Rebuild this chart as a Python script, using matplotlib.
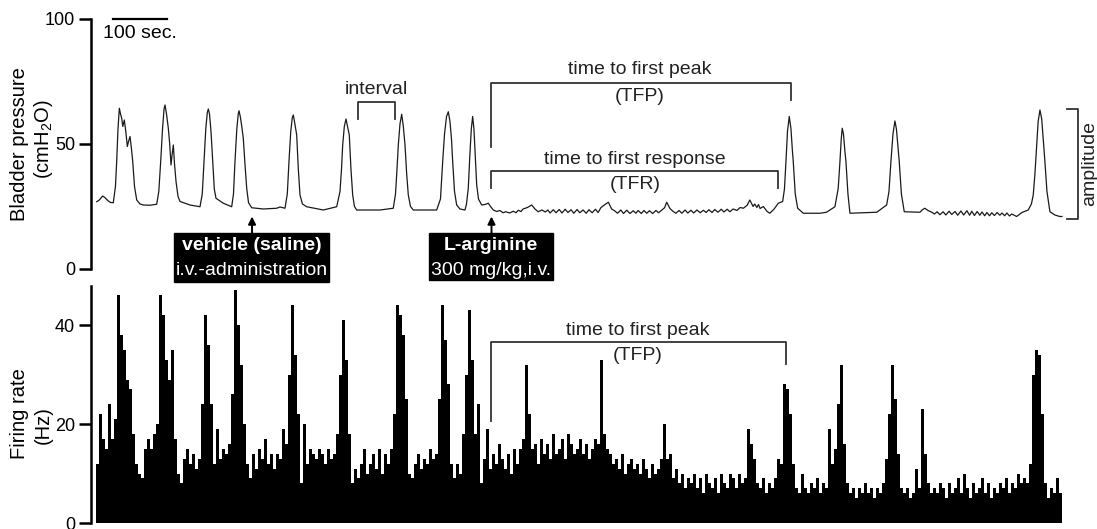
import numpy as np
import matplotlib
matplotlib.use("Agg")
import matplotlib.pyplot as plt
from matplotlib.patches import Rectangle

plt.rcParams['font.family'] = ['Liberation Sans', 'DejaVu Sans']
plt.rcParams['mathtext.fontset'] = 'custom'
plt.rcParams['mathtext.rm'] = 'Liberation Sans'

# bladder pressure trace: (time in s, pressure in cmH2O)
pressure_points = [
    (1.3, 26.9), (5.6, 27.5), (12.4, 29.2), (16.7, 28.5), (22.8, 27.2), (26.9, 26.6), (32, 26.5),
    (36, 33), (38.3, 43), (40.7, 56), (43.2, 64.3), (45.4, 62), (47.6, 60.3), (49.6, 57),
    (52.4, 59.6), (55.2, 55), (58, 49), (60.2, 51), (63, 53), (65.7, 48), (68, 43), (71.3, 33),
    (75.4, 27.6), (81.5, 26), (87.6, 25.6), (100, 25.5), (112.4, 25.9), (116.3, 31), (119.8, 43),
    (123.2, 56), (126, 64), (127.8, 65.6), (130.6, 62), (133.9, 56.3), (136.5, 50), (138.9, 41.6),
    (141.1, 46), (143.2, 49.6), (145.4, 42), (148.2, 35), (151.9, 29), (155.6, 27), (174.1, 25.6),
    (192.6, 24.9), (196.8, 30), (200, 43), (203.3, 56), (206.1, 62.5), (208, 64), (210.2, 62),
    (213, 55), (216.1, 43), (219.1, 32), (222.2, 28.3), (235.8, 26.3), (251.3, 24.9), (254.6, 30),
    (257.4, 43), (260.8, 56), (263.4, 62), (264.8, 63.3), (267.2, 61), (270, 57), (272.8, 52.3),
    (275.9, 42), (279.1, 32.3), (282.5, 26.5), (288.4, 24.5), (309.8, 24), (334.7, 24.3),
    (340.8, 24.8), (350, 24.3), (354.3, 30), (357.4, 43), (360.7, 55), (363.5, 60.5), (365.4, 61.6),
    (367.6, 59), (371.7, 53.6), (374.7, 40), (377.8, 29.6), (382.4, 26), (390.2, 24.9), (421, 23.6),
    (445.8, 24.9), (451.9, 31), (454.7, 40), (456.9, 49.6), (459.9, 57), (463, 60), (465.8, 57),
    (469.1, 53.6), (472.2, 40), (475.4, 29.6), (478.7, 25), (482.8, 23.6), (526, 23.6),
    (550.6, 24.3), (554.7, 30), (557.5, 40), (559.9, 49.6), (563, 58), (566.2, 61.9), (569.2, 57),
    (572.3, 49.6), (575.4, 38), (578.4, 29.6), (582.5, 25), (587.6, 23.6), (631, 23.6), (638, 28),
    (642.1, 43), (645.5, 54), (649.2, 61), (652.5, 62.9), (655.6, 59), (658.4, 52), (660.6, 43),
    (664, 31), (668, 25.6), (674.1, 24), (683.4, 23.6), (686.2, 26), (689.5, 32.3), (692.3, 45),
    (695.1, 56), (697.6, 61), (700, 56), (702.5, 45), (705.1, 33.6), (708.4, 28), (714.3, 25.6),
    (720.4, 25.8), (726.5, 26.3), (731.5, 24.8), (735.8, 23.6),
    (742, 23.0), (748, 23.4), (754, 22.5), (759, 22.9), (766, 22.4), (773, 23.1), (778, 22.5),
    (782, 23.5), (787, 23.0), (791, 24), (799, 24.6), (807, 25.6), (813, 24.0), (819, 22.9),
    (826, 23.6), (832, 22.8), (837, 23.6), (841, 22.4), (847, 23.7), (852, 22.5), (858, 23.8),
    (863, 22.4), (869, 23.9), (874, 22.6), (880, 23.7), (885, 22.3), (891, 23.8), (896, 22.5),
    (902, 23.6), (908, 22.3), (913, 23.7), (919, 22.5), (925, 23.9), (930, 22.6), (935, 24.5),
    (939, 25.2), (944, 26.0), (949, 26.7), (955, 24.0), (961, 23.2), (966, 22.3), (972, 23.6),
    (977, 22.2), (983, 23.5), (989, 22.2), (995, 23.3), (1000, 22.3), (1004, 23.4), (1010, 22.2),
    (1015, 23.4), (1020, 22.3), (1025, 23.3), (1031, 22.2), (1037, 23.4), (1042, 22.5),
    (1048, 23.6), (1053, 24.5), (1057, 26.7), (1063, 24.2), (1069, 23.0), (1074, 22.3),
    (1080, 23.4), (1085, 22.3), (1091, 23.6), (1096, 22.4), (1102, 23.5), (1107, 22.4),
    (1113, 23.6), (1119, 22.5), (1125, 23.5), (1130, 22.6), (1135, 23.7), (1141, 22.6),
    (1146, 23.8), (1152, 22.7), (1158, 23.9), (1163, 22.8), (1169, 23.9), (1174, 22.9),
    (1180, 24.0), (1187, 23.4), (1193, 24.6), (1199, 24.3), (1206, 25.5), (1211, 27.6),
    (1217, 25), (1220, 26.0), (1224, 24.6), (1227, 25.8), (1230, 24.2), (1236, 25.0), (1243, 23),
    (1248, 22.3), (1256, 24), (1263.6, 26.3), (1271.8, 27), (1275.1, 32), (1277.9, 43),
    (1280.7, 55), (1284, 61), (1287.2, 56), (1289.6, 48), (1291.4, 43), (1295.1, 30),
    (1299.6, 24.3), (1310, 22.3), (1341, 22.3), (1353, 22.7), (1368.6, 24.9), (1374.7, 32.3),
    (1377.9, 43), (1380.3, 52), (1382.1, 56.3), (1384.4, 54), (1387.1, 47), (1389, 43),
    (1392.7, 30), (1396.4, 22.3), (1446, 22.7), (1464.4, 25.6), (1468.7, 31), (1472.3, 43),
    (1476.1, 54), (1479.7, 59.2), (1482.5, 56), (1484.9, 50), (1487.7, 43), (1491.7, 30),
    (1497, 22.9), (1526, 22.7), (1530, 23.6), (1535, 24.3), (1541, 23.4), (1548, 22.7),
    (1553, 22.0), (1558, 22.9), (1563, 21.7), (1569, 22.9), (1574, 21.6), (1580, 23.1),
    (1585, 21.8), (1591, 23.0), (1596, 21.5), (1602, 23.2), (1607, 21.6), (1613, 23.3),
    (1618, 21.5), (1622, 23.1), (1627, 21.4), (1632, 23.0), (1637, 21.5), (1641, 22.8),
    (1646, 21.3), (1650, 22.6), (1655, 21.3), (1659, 22.5), (1664, 21.4), (1669, 22.6),
    (1674, 21.5), (1678, 22.4), (1683, 21.3), (1687, 22.4), (1692, 21.2), (1696, 22.0),
    (1705, 21), (1715, 22.6), (1726.6, 23.6), (1732.5, 26), (1735.9, 29.6), (1739, 38),
    (1741.8, 48), (1745, 59), (1748.3, 63.6), (1751.6, 60), (1754.4, 52), (1757.5, 43),
    (1761.3, 31), (1766.8, 22.9), (1776, 21.6), (1785, 21), (1789, 21),
]
trace_t = [p[0] for p in pressure_points]
trace_p = [p[1] for p in pressure_points]

# firing rate histogram (Hz), one value per 5.56 s bin
bin_width = 5.556
firing_rate = [
    12, 22, 17, 15, 24, 17, 21, 46, 38, 35,
    29, 27, 18, 12, 10, 9, 15, 17, 15, 18,
    20, 46, 42, 33, 29, 35, 17, 10, 8, 13,
    15, 12, 14, 11, 13, 24, 42, 36, 24, 12,
    19, 13, 15, 14, 16, 26, 47, 40, 32, 20,
    12, 9, 14, 11, 15, 13, 17, 12, 14, 11,
    14, 13, 19, 16, 30, 44, 34, 22, 8, 20,
    12, 15, 14, 13, 15, 14, 12, 15, 13, 14,
    18, 30, 41, 33, 18, 8, 11, 9, 12, 15,
    10, 12, 14, 11, 15, 10, 14, 12, 15, 22,
    44, 42, 38, 25, 10, 9, 12, 14, 11, 13,
    12, 15, 13, 14, 25, 44, 37, 28, 12, 9,
    12, 10, 18, 30, 43, 33, 18, 24, 8, 13,
    19, 11, 14, 12, 16, 13, 11, 14, 10, 15,
    12, 15, 17, 32, 22, 15, 16, 12, 17, 14,
    16, 13, 18, 14, 15, 17, 13, 18, 16, 14,
    15, 17, 14, 16, 13, 15, 17, 16, 33, 18,
    15, 14, 12, 13, 11, 14, 10, 12, 13, 11,
    12, 10, 13, 11, 9, 12, 10, 11, 13, 20,
    13, 14, 9, 11, 8, 10, 7, 9, 8, 10,
    7, 9, 6, 10, 8, 7, 9, 6, 10, 8,
    7, 10, 9, 7, 10, 8, 9, 19, 16, 13,
    8, 7, 9, 6, 8, 7, 9, 13, 12, 28,
    27, 22, 12, 7, 6, 10, 7, 6, 8, 7,
    9, 6, 8, 7, 19, 12, 15, 24, 32, 16,
    8, 6, 7, 5, 7, 6, 8, 6, 7, 5,
    7, 6, 8, 13, 22, 32, 25, 14, 7, 6,
    7, 5, 6, 11, 7, 23, 14, 8, 6, 7,
    6, 8, 7, 5, 8, 6, 7, 9, 6, 10,
    7, 5, 8, 6, 7, 9, 6, 8, 5, 7,
    6, 8, 7, 9, 6, 8, 7, 10, 8, 9,
    8, 12, 30, 35, 34, 22, 8, 5, 7, 6,
    9, 6]

pressure_ticks = [0, 50, 100]
rate_ticks = [0, 20, 40]

fig = plt.figure(figsize=(10.97, 5.29), dpi=100)
ax1 = fig.add_axes([0.0825, 0.4915, 0.8865, 0.4726])
ax2 = fig.add_axes([0.0825, 0.0113, 0.8865, 0.449])

xlim = (-10.2, 1791)
txt = '#222222'
lc = '#333333'
fs = 14

for ax in (ax1, ax2):
    for s in ('top', 'right', 'bottom'):
        ax.spines[s].set_visible(False)
    ax.spines['left'].set_linewidth(1.8)
    ax.tick_params(axis='y', length=9, width=1.8, labelsize=13, pad=2)
    ax.set_xticks([])
    ax.set_xlim(*xlim)

# top: bladder pressure
ax1.plot(trace_t, trace_p, color='#1a1a1a', lw=0.9)
ax1.set_ylim(0, 100)
ax1.set_yticks(pressure_ticks)
ax1.text(-142, 50, 'Bladder pressure', rotation=90, ha='center', va='center', fontsize=14.5)
ax1.text(-98, 51.8, '(cmH$_2$O)', rotation=90, ha='center', va='center', fontsize=14.5)

# scale bar
ax1.plot([31.5, 131.5], [100, 100], color='black', lw=1.6, clip_on=False)
ax1.text(81.5, 94.3, '100 sec.', ha='center', va='center', fontsize=fs)

# interval bracket
ax1.plot([485.8, 485.8, 553.7, 553.7], [60, 66.7, 66.7, 60], color=lc, lw=1.3)
ax1.text(519, 71.8, 'interval', ha='center', va='center', fontsize=fs, color=txt)

# time to first peak bracket
ax1.plot([731.5, 731.5, 1286.6, 1286.6], [48.9, 74.5, 74.5, 67.6], color=lc, lw=1.3)
ax1.text(1007, 79.6, 'time to first peak', ha='center', va='center', fontsize=fs, color=txt)
ax1.text(1007, 68.8, '(TFP)', ha='center', va='center', fontsize=fs, color=txt)

# time to first response bracket
ax1.plot([731.5, 731.5, 1263.6, 1263.6], [32.3, 39.2, 39.2, 32.3], color=lc, lw=1.3)
ax1.text(998, 43.8, 'time to first response', ha='center', va='center', fontsize=fs, color=txt)
ax1.text(998, 33.8, '(TFR)', ha='center', va='center', fontsize=fs, color=txt)

# amplitude bracket
ax1.plot([1798, 1818.5, 1818.5, 1798], [64, 64, 20, 20], color=lc, lw=1.3, clip_on=False)
ax1.text(1840, 42, 'amplitude', rotation=90, ha='center', va='center', fontsize=fs, color=txt)

# injection arrows and labels
for x0 in (289, 732.5):
    ax1.annotate('', xy=(x0, 21), xytext=(x0, 14.4),
                 arrowprops=dict(arrowstyle='-|>', color='black', lw=1.4, mutation_scale=11,
                                 shrinkA=0, shrinkB=0), annotation_clip=False)

ax1.add_patch(Rectangle((144.5, -5.2), 287, 19.6, color='black', clip_on=False))
ax1.text(288, 9.4, 'vehicle (saline)', ha='center', va='center', fontsize=fs,
         fontweight='bold', color='white')
ax1.text(288, -0.6, 'i.v.-administration', ha='center', va='center', fontsize=fs, color='white')

ax1.add_patch(Rectangle((616.7, -4.4), 229.7, 18.8, color='black', clip_on=False))
ax1.text(731.5, 9.4, 'L-arginine', ha='center', va='center', fontsize=fs,
         fontweight='bold', color='white')
ax1.text(731.5, -0.6, '300 mg/kg,i.v.', ha='center', va='center', fontsize=fs, color='white')

# bottom: firing rate
bin_left = np.arange(len(firing_rate)) * bin_width
ax2.bar(bin_left, firing_rate, width=bin_width, align='edge', color='black', linewidth=0)
ax2.set_ylim(0, 48)
ax2.set_yticks(rate_ticks)
ax2.text(-142, 22.1, 'Firing rate', rotation=90, ha='center', va='center', fontsize=14.5)
ax2.text(-98, 19.8, '(Hz)', rotation=90, ha='center', va='center', fontsize=14.5)

ax2.plot([731.5, 731.5, 1277.3, 1277.3], [20.7, 36.5, 36.5, 32.1], color=lc, lw=1.3)
ax2.text(1004, 38.9, 'time to first peak', ha='center', va='center', fontsize=fs, color=txt)
ax2.text(1004, 33.9, '(TFP)', ha='center', va='center', fontsize=fs, color=txt)

fig.savefig('out.png', dpi=100)
